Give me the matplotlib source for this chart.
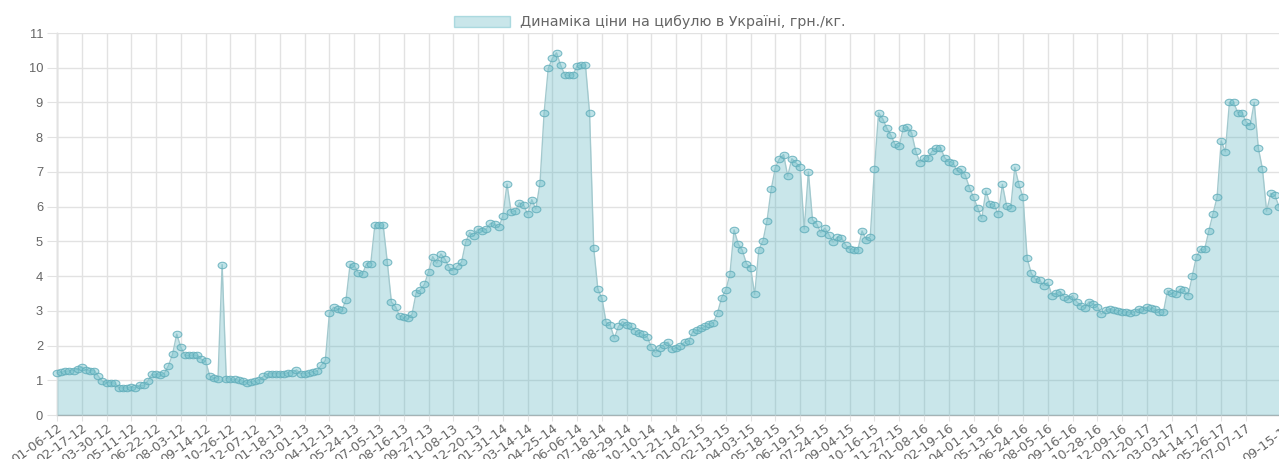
import numpy as np
import matplotlib
matplotlib.use("Agg")
import matplotlib.pyplot as plt
from matplotlib.patches import Patch
from matplotlib.path import Path

# weekly onion price, UAH/kg
prices = [
    1.22, 1.23, 1.26, 1.27, 1.28, 1.33, 1.38, 1.30, 1.27, 1.28,
    1.12, 0.97, 0.93, 0.93, 0.92, 0.78, 0.78, 0.78, 0.80, 0.78,
    0.85, 0.85, 0.98, 1.17, 1.17, 1.15, 1.20, 1.42, 1.75, 2.33,
    1.95, 1.72, 1.72, 1.73, 1.72, 1.60, 1.55, 1.12, 1.07, 1.05,
    4.33, 1.05, 1.03, 1.03, 1.00, 0.98, 0.93, 0.95, 0.97, 1.00,
    1.11, 1.19, 1.19, 1.19, 1.19, 1.19, 1.21, 1.21, 1.30, 1.19,
    1.19, 1.21, 1.25, 1.26, 1.43, 1.57, 2.94, 3.10, 3.05, 3.02,
    3.31, 4.34, 4.30, 4.10, 4.06, 4.36, 4.36, 5.47, 5.47, 5.47,
    4.41, 3.25, 3.12, 2.85, 2.81, 2.78, 2.90, 3.52, 3.60, 3.76,
    4.13, 4.56, 4.37, 4.64, 4.48, 4.25, 4.15, 4.29, 4.40, 4.98,
    5.25, 5.15, 5.36, 5.30, 5.36, 5.52, 5.50, 5.40, 5.73, 6.65,
    5.85, 5.87, 6.11, 6.05, 5.78, 6.20, 5.93, 6.69, 8.71, 9.98,
    10.27, 10.43, 10.07, 9.80, 9.78, 9.80, 10.05, 10.08, 10.08, 8.70,
    4.82, 3.63, 3.36, 2.67, 2.59, 2.21, 2.55, 2.69, 2.60, 2.55,
    2.43, 2.37, 2.32, 2.24, 1.95, 1.79, 1.94, 2.02, 2.10, 1.90,
    1.92, 2.00, 2.10, 2.12, 2.40, 2.44, 2.50, 2.55, 2.63, 2.65,
    2.94, 3.38, 3.60, 4.05, 5.33, 4.93, 4.74, 4.36, 4.24, 3.47,
    4.76, 5.01, 5.60, 6.50, 7.12, 7.38, 7.50, 6.88, 7.38, 7.26,
    7.14, 5.35, 7.00, 5.62, 5.51, 5.25, 5.38, 5.19, 4.98, 5.12,
    5.10, 4.90, 4.77, 4.76, 4.76, 5.30, 5.05, 5.14, 7.07, 8.70,
    8.53, 8.26, 8.05, 7.79, 7.74, 8.26, 8.30, 8.13, 7.60, 7.27,
    7.39, 7.41, 7.60, 7.68, 7.70, 7.41, 7.29, 7.27, 7.03, 7.07,
    6.91, 6.55, 6.27, 5.97, 5.66, 6.45, 6.07, 6.05, 5.78, 6.64,
    6.03, 5.95, 7.13, 6.64, 6.27, 4.51, 4.08, 3.91, 3.89, 3.72,
    3.82, 3.44, 3.50, 3.55, 3.41, 3.34, 3.44, 3.26, 3.15, 3.09,
    3.26, 3.20, 3.12, 2.90, 3.02, 3.04, 3.02, 3.00, 2.98, 2.96,
    2.95, 2.96, 3.05, 3.02, 3.10, 3.07, 3.05, 2.96, 2.96, 3.58,
    3.50, 3.48, 3.62, 3.60, 3.44, 4.01, 4.56, 4.77, 4.77, 5.30,
    5.78, 6.27, 7.89, 7.58, 9.00, 9.00, 8.71, 8.71, 8.45, 8.33,
    9.00, 7.68, 7.08, 5.87, 6.38, 6.33, 6.00,
]

# date labels shown on the axis, one every 6 weeks
tick_labels = [
    "01-06-12", "02-17-12", "03-30-12", "05-11-12", "06-22-12", "08-03-12",
    "09-14-12", "10-26-12", "12-07-12", "01-18-13", "03-01-13", "04-12-13",
    "05-24-13", "07-05-13", "08-16-13", "09-27-13", "11-08-13", "12-20-13",
    "01-31-14", "03-14-14", "04-25-14", "06-06-14", "07-18-14", "08-29-14",
    "10-10-14", "11-21-14", "01-02-15", "02-13-15", "04-03-15", "05-18-15",
    "06-19-15", "07-24-15", "09-04-15", "10-16-15", "11-27-15", "01-08-16",
    "02-19-16", "04-01-16", "05-13-16", "06-24-16", "08-05-16", "09-16-16",
    "10-28-16", "12-09-16", "01-20-17", "03-03-17", "04-14-17", "05-26-17",
    "07-07-17",
]
tick_step = 6
last_label = "09-15-17"
last_label_week = 298

series_name = "Динаміка ціни на цибулю в Україні, грн./кг."

plt.rcParams['font.family'] = ['Liberation Sans', 'DejaVu Sans']

fill_rgba = (0.27, 0.67, 0.73, 0.29)
line_col = '#a3c9ce'
point_face = (0.45, 0.76, 0.80, 0.45)
point_edge = (0.38, 0.68, 0.73, 0.8)
text_col = '#666666'
wide_font = ['DejaVu Sans']   # the original text is stretched sideways
label_rot = 36

fig = plt.figure(figsize=(12.79, 4.59), dpi=100)
ax = fig.add_axes([57 / 1279, 44 / 459, 1222 / 1279, 382 / 459])

x = np.arange(len(prices))
ax.fill_between(x, prices, 0, color=fill_rgba, lw=0, zorder=1)
ax.plot(x, prices, color=line_col, lw=1, zorder=2)

# points are slightly wider than tall in the original
circ = Path.unit_circle()
ellipse = Path(circ.vertices * [1.35, 1.0], circ.codes)
ax.plot(x, prices, ls='none', marker=ellipse, ms=6.3, mfc=point_face,
        mec=point_edge, mew=0.8, zorder=3, clip_on=False)

ax.set_xlim(0, len(prices) - 1)
ax.set_ylim(0, 11)
ax.set_yticks(range(0, 12))
ax.set_xticks(np.arange(len(tick_labels)) * tick_step)
ax.set_xticklabels(tick_labels, rotation=label_rot, ha='right', va='top',
                   rotation_mode='anchor', family=wide_font, fontsize=9.3)

ax.grid(color='#e2e2e2', lw=1)
ax.set_axisbelow(True)
for side in ['top', 'right']:
    ax.spines[side].set_visible(False)
for side in ['left', 'bottom']:
    ax.spines[side].set_color('#b5b5b5')
    ax.spines[side].set_linewidth(1)
    ax.spines[side].set_zorder(0.5)

ax.tick_params(axis='y', colors=text_col, labelsize=9.3, length=7, pad=3,
               color='#e2e2e2')
ax.tick_params(axis='x', colors=text_col, length=4, pad=1,
               color='#e2e2e2')

# last label sits just past the right edge and gets cut by the figure
ax.annotate(last_label, xy=(last_label_week, 0),
            xycoords=('data', 'axes fraction'), xytext=(0, -4),
            textcoords='offset points', rotation=label_rot, ha='right',
            va='top', rotation_mode='anchor', color=text_col, fontsize=9.3,
            family=wide_font, annotation_clip=False)

handle = Patch(facecolor=fill_rgba, edgecolor=(0.45, 0.76, 0.80, 0.5), lw=1)
fig.legend([handle], [series_name], loc='upper center',
           bbox_to_anchor=(0.508, 0.995), frameon=False,
           prop={'family': wide_font, 'size': 10.3},
           handlelength=3.9, handleheight=0.8, handletextpad=0.65,
           labelcolor=text_col)

fig.savefig("out.png", dpi=100)
